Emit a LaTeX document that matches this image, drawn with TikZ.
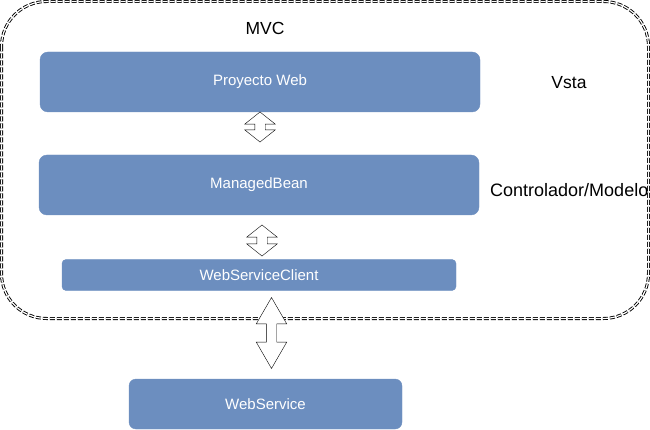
\documentclass[tikz,border=0pt]{standalone}
\usepackage{fontspec}
\setmainfont{Liberation Sans}
\usetikzlibrary{shapes.arrows}
\definecolor{boxblue}{HTML}{6C8EBF}
\tikzset{
  layer/.style={draw=boxblue, fill=boxblue, text=white, rounded corners=8pt, font=\fontsize{15}{18}\selectfont},
  dblarrow/.style={draw=black, fill=white, double arrow, shape border rotate=90, inner sep=5pt, minimum width=30pt, double arrow head extend=10pt},
  title/.style={font=\fontsize{17.5}{21}\selectfont}
}

\begin{document}
\begin{tikzpicture}[x=1pt,y=-1pt]
        \useasboundingbox (0,0) rectangle (650,430);
        \draw[line width=0.9pt, double, double distance=1.2pt, dash pattern=on 5pt off 2pt, rounded corners=45pt] (1.5,1.5) rectangle (648.5,318.5);
        \node[title] (mvc) at (265,28) {MVC};
        \node[title] (vista) at (569,83) {Vsta};
        \node[title, anchor=west, inner sep=0pt, font=\fontsize{18}{21}\selectfont] (ctrl) at (490,190) {Controlador/Modelo};
        \node[layer, minimum width=440pt, minimum height=60pt] (web) at (260,82) {Proyecto Web};
        \node[layer, minimum width=440pt, minimum height=60pt] (mb) at (259,185) {ManagedBean};
        \node[layer, minimum width=394pt, minimum height=31pt, rounded corners=4pt] (wsc) at (259,275) {WebServiceClient};
        \node[layer, minimum width=273pt, minimum height=50pt, rounded corners=7pt] (ws) at (265.5,404) {WebService};
        \node[dblarrow, minimum height=30pt, double arrow tip angle=103] (a1) at (260,127) {};
        \node[dblarrow, minimum height=31pt, double arrow tip angle=103] (a2) at (262,240.5) {};
        \node[dblarrow, minimum height=71pt, double arrow tip angle=60] (a3) at (271.5,333) {};
\end{tikzpicture}
\end{document}
